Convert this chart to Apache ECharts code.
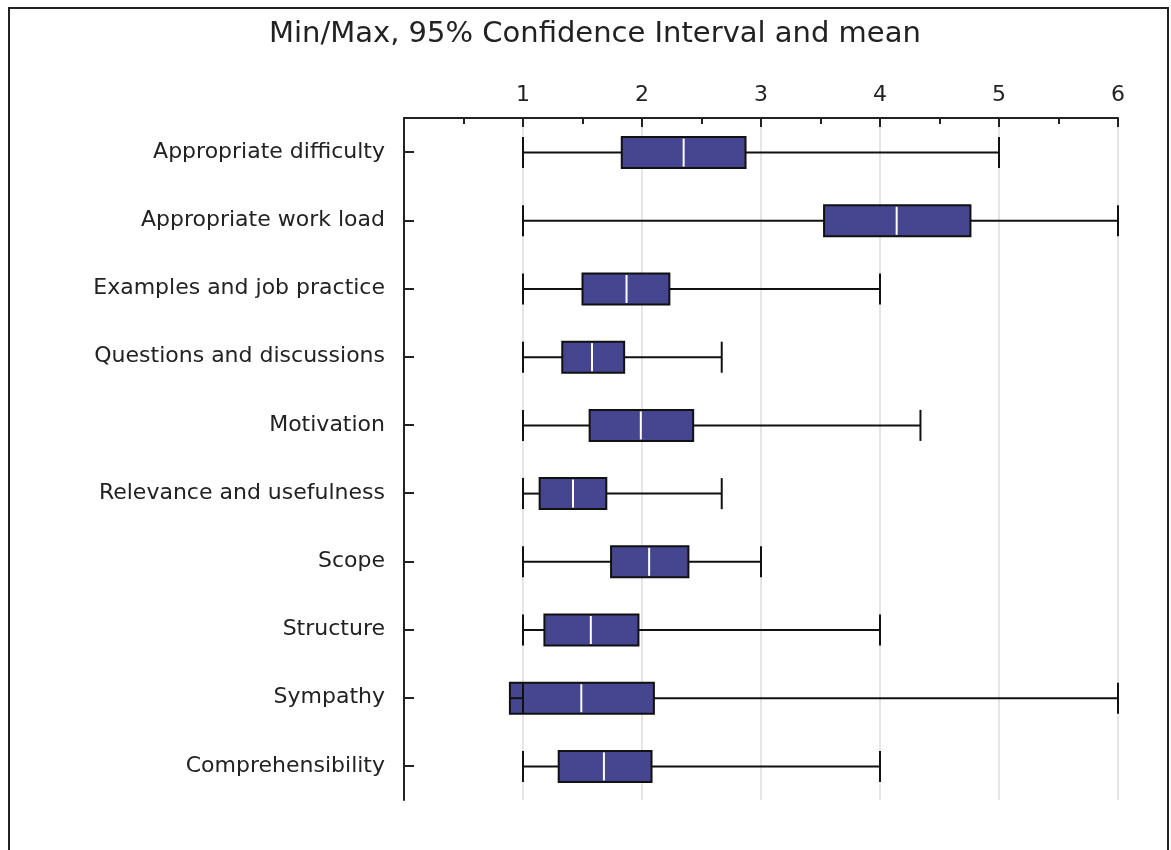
<!DOCTYPE html>
<html>
<head>
<meta charset="utf-8">
<script src="https://cdn.jsdelivr.net/npm/echarts@6/dist/echarts.min.js"></script>
<style>
html,body{margin:0;padding:0;background:#fff;}
#chart{width:1171px;height:850px;}
</style>
</head>
<body>
<div id="chart"></div>
<script>
const categories = [
  'Appropriate difficulty',
  'Appropriate work load',
  'Examples and job practice',
  'Questions and discussions',
  'Motivation',
  'Relevance and usefulness',
  'Scope',
  'Structure',
  'Sympathy',
  'Comprehensibility'
];
const minVals = [1, 1, 1, 1, 1, 1, 1, 1, 1, 1];
const ciLow   = [1.83, 3.53, 1.50, 1.33, 1.56, 1.14, 1.74, 1.18, 0.89, 1.30];
const means   = [2.35, 4.14, 1.87, 1.58, 1.99, 1.42, 2.06, 1.57, 1.49, 1.68];
const ciHigh  = [2.87, 4.76, 2.23, 1.85, 2.43, 1.70, 2.39, 1.97, 2.10, 2.08];
const maxVals = [5, 6, 4, 2.67, 4.34, 2.67, 3, 4, 6, 4];
const xTicks  = [1, 2, 3, 4, 5, 6];

const FONT = '"DejaVu Sans", Verdana, sans-serif';

const seriesData = categories.map((c, i) => [i, minVals[i], ciLow[i], means[i], ciHigh[i], maxVals[i]]);

function renderItem(params, api) {
  const idx = api.value(0);
  const pMin = api.coord([api.value(1), idx]);
  const pLo = api.coord([api.value(2), idx]);
  const pMean = api.coord([api.value(3), idx]);
  const pHi = api.coord([api.value(4), idx]);
  const pMax = api.coord([api.value(5), idx]);
  const band = api.size([0, 1])[1];
  const h = band * 0.455;
  const cy = pMean[1] + 0.5;
  const top = cy - h / 2, bot = cy + h / 2;
  const lineStyle = { stroke: '#111', lineWidth: 2 };
  return {
    type: 'group',
    children: [
      { type: 'rect', shape: { x: pLo[0], y: top, width: pHi[0] - pLo[0], height: h },
        style: { fill: '#454590', stroke: '#111', lineWidth: 2 } },
      { type: 'line', shape: { x1: pMean[0], y1: top + 1.5, x2: pMean[0], y2: bot - 1.5 },
        style: { stroke: '#ffffff', lineWidth: 2 } },
      { type: 'line', shape: { x1: pMin[0], y1: cy, x2: pLo[0], y2: cy }, style: lineStyle },
      { type: 'line', shape: { x1: pHi[0], y1: cy, x2: pMax[0], y2: cy }, style: lineStyle },
      { type: 'line', shape: { x1: pMin[0], y1: top, x2: pMin[0], y2: bot }, style: lineStyle },
      { type: 'line', shape: { x1: pMax[0], y1: top, x2: pMax[0], y2: bot }, style: lineStyle }
    ]
  };
}

const chart = echarts.init(document.getElementById('chart'), null, { renderer: 'canvas' });
chart.setOption({
  backgroundColor: '#fff',
  animation: false,
  title: {
    text: 'Min/Max, 95% Confidence Interval and mean',
    left: 264,
    top: 15,
    textStyle: { fontFamily: FONT, fontSize: 29, fontWeight: 'normal', color: '#222' }
  },
  graphic: [{
    type: 'rect',
    shape: { x: 9, y: 8, width: 1159, height: 900 },
    style: { fill: 'none', stroke: '#222', lineWidth: 2 },
    z: 100
  }],
  grid: { left: 404, top: 118, right: 53, bottom: 50, containLabel: false },
  xAxis: {
    type: 'value',
    position: 'top',
    min: 0,
    max: 6,
    interval: 1,
    axisLine: { show: true, lineStyle: { color: '#222', width: 2 } },
    axisTick: { show: true, inside: true, length: 9, lineStyle: { color: '#222', width: 2 } },
    minorTick: { show: true, splitNumber: 2, length: 6, lineStyle: { color: '#222', width: 2 } },
    axisLabel: {
      margin: 12,
      fontFamily: FONT,
      fontSize: 22,
      color: '#222',
      formatter: v => (xTicks.indexOf(v) >= 0 ? String(v) : '')
    },
    splitLine: { show: true, lineStyle: { color: '#dcdcdc', width: 1.5 } }
  },
  yAxis: {
    type: 'category',
    data: categories,
    inverse: true,
    axisLine: { show: true, lineStyle: { color: '#222', width: 2 } },
    axisTick: { show: true, inside: true, alignWithLabel: true, length: 10, lineStyle: { color: '#222', width: 2 } },
    axisLabel: { margin: 19, fontFamily: FONT, fontSize: 22, color: '#222' },
    splitLine: { show: false }
  },
  series: [{
    type: 'custom',
    renderItem: renderItem,
    encode: { x: [1, 2, 3, 4, 5], y: 0 },
    data: seriesData,
    z: 10
  }]
});
</script>
</body>
</html>
